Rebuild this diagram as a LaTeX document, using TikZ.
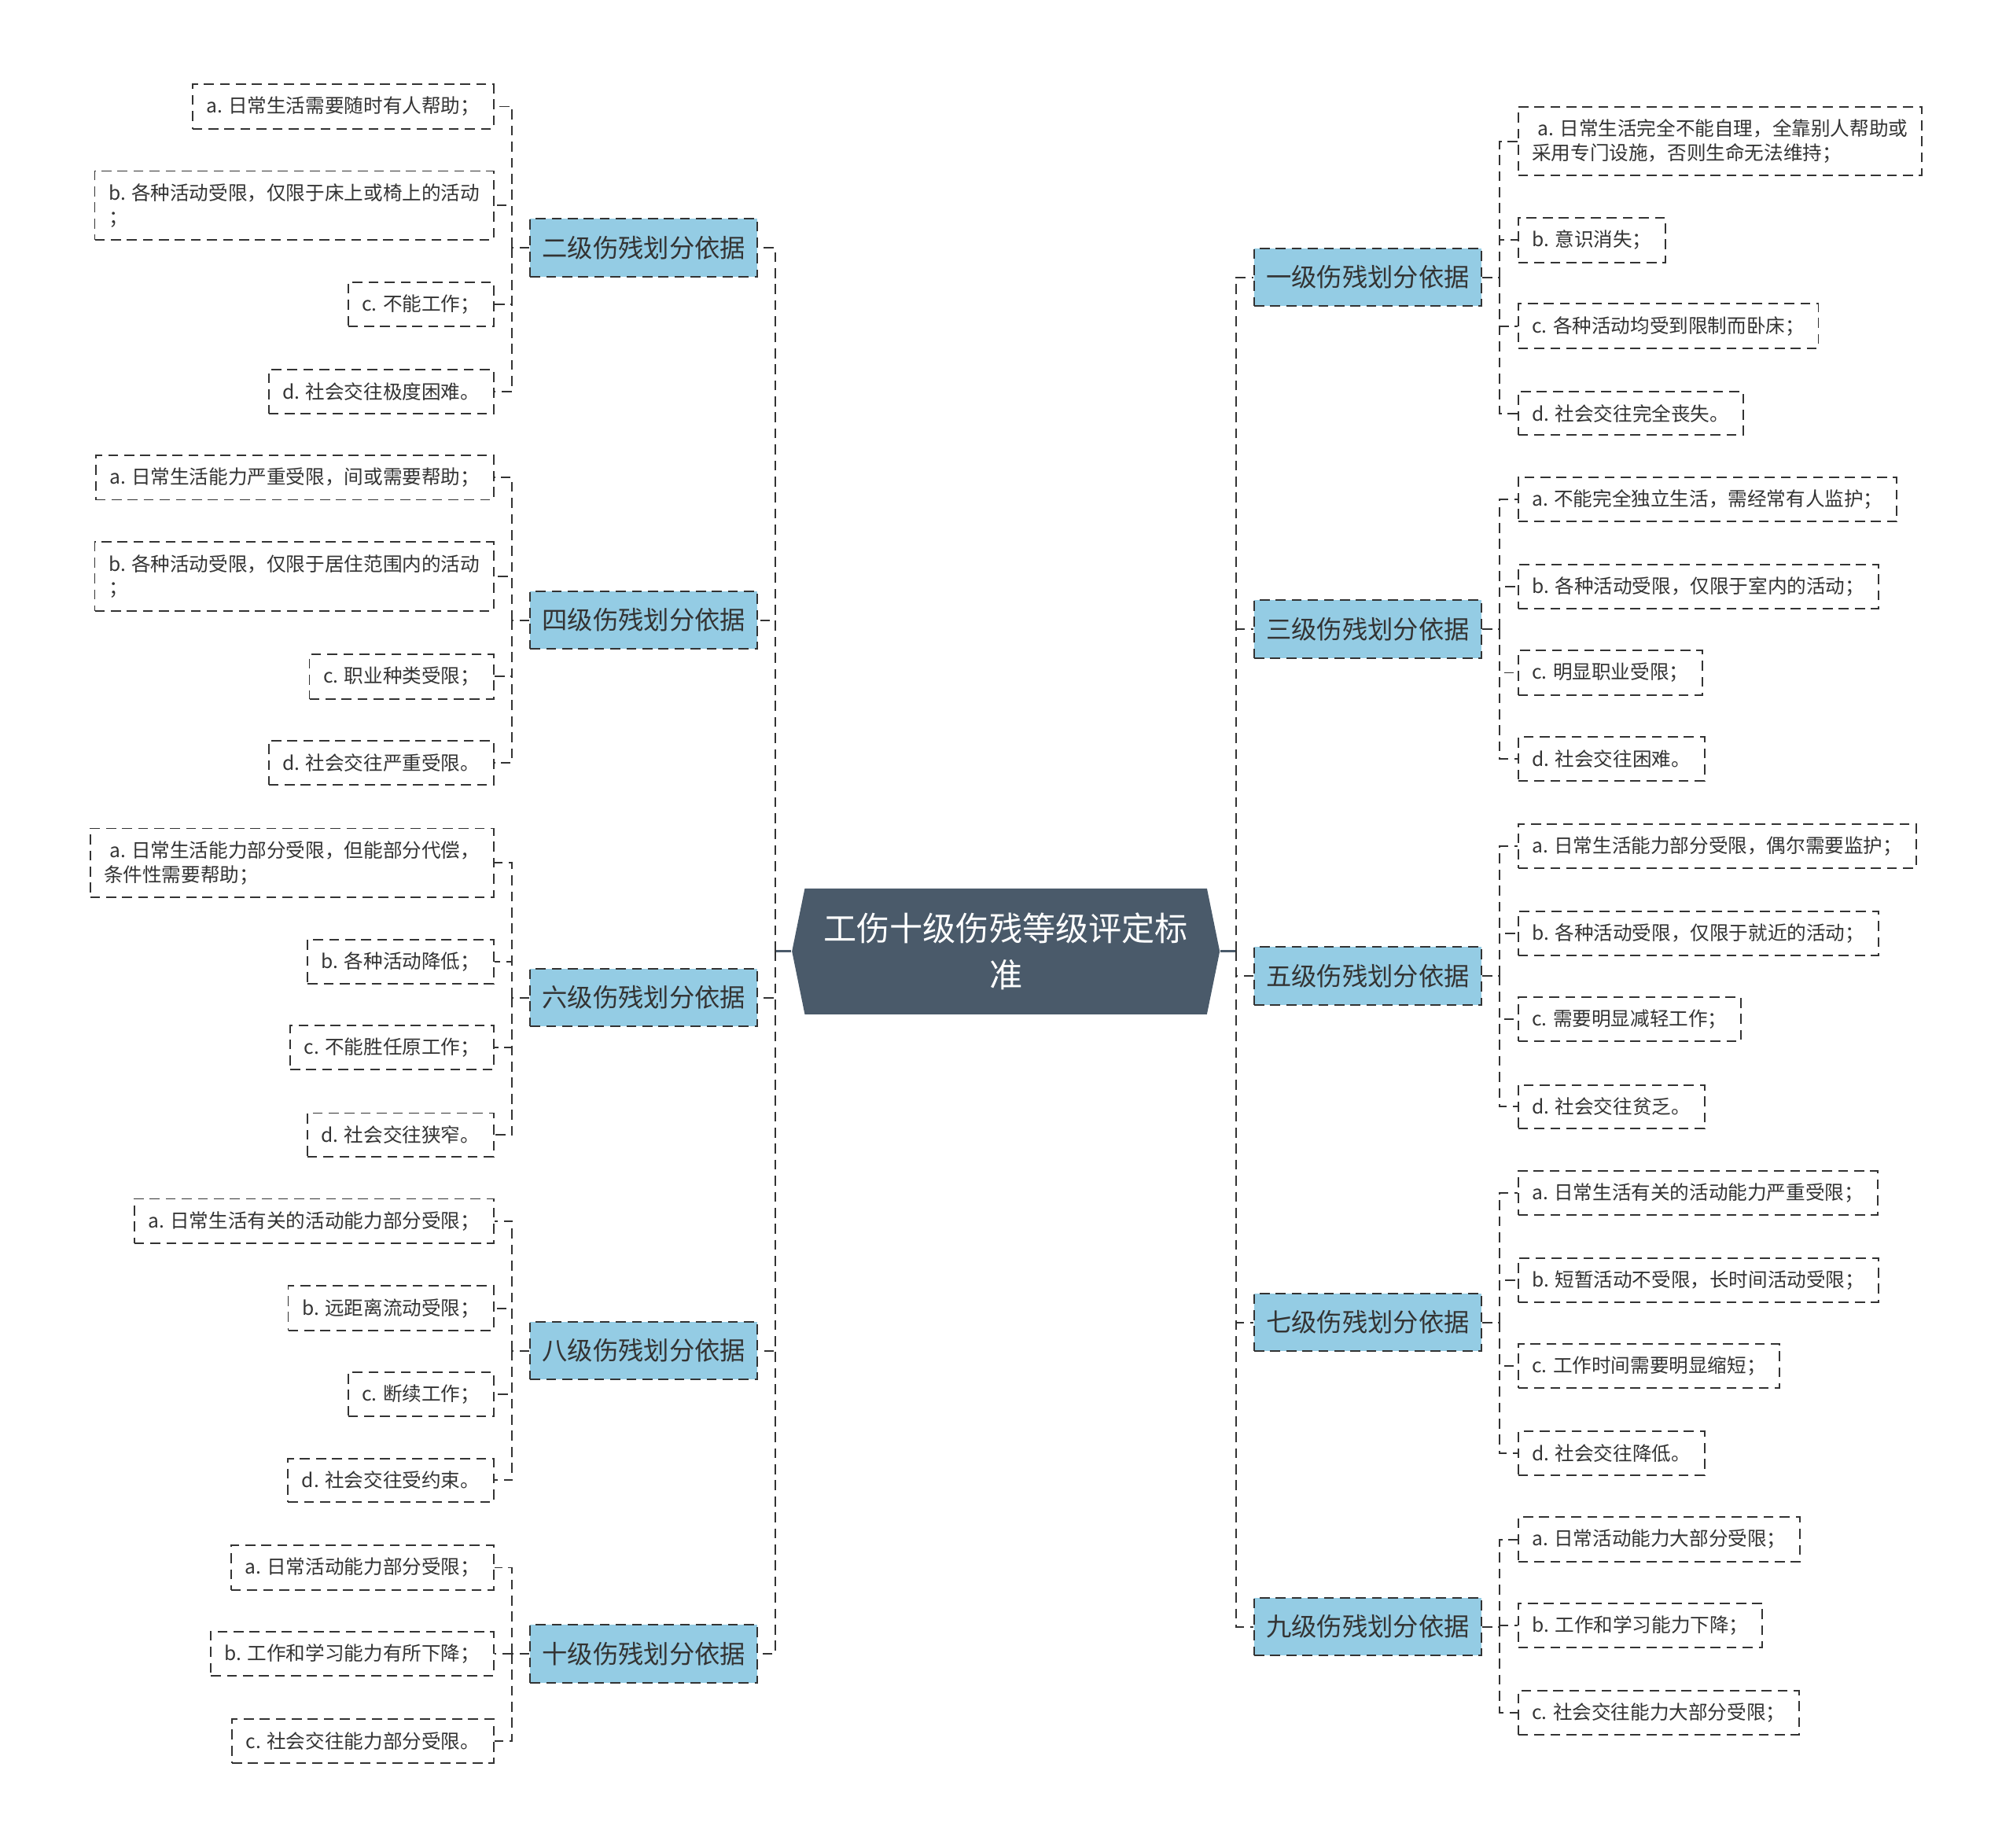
\documentclass[tikz,border=0pt]{standalone}
\usepackage{fontspec}
\setmainfont{Noto Sans CJK SC}
\usetikzlibrary{shapes.symbols}
\definecolor{RootSlate}{RGB}{74,90,106}
\definecolor{CatBlue}{RGB}{148,204,228}
\definecolor{LineGray}{RGB}{51,51,51}

\begin{document}
\begin{tikzpicture}[x=0.01633cm, y=-0.01633cm,
    link/.style={draw=LineGray, line width=0.55pt, dash pattern=on 3.6pt off 2.2pt},
    rootlink/.style={draw=RootSlate, line width=0.9pt},
    leaf/.style={draw=LineGray, line width=0.55pt, dash pattern=on 3.6pt off 2.2pt,
      font=\fontsize{7}{8.8}\selectfont, text=LineGray, align=left,
      inner xsep=5pt, inner ysep=4.5pt, minimum height=0.555cm},
    cat/.style={fill=CatBlue, draw=LineGray, line width=0.55pt, dash pattern=on 3.6pt off 2.2pt,
      font=\fontsize{9.2}{11}\selectfont, text=LineGray,
      minimum width=2.89cm, minimum height=0.735cm, inner sep=2pt},
    root/.style={signal, signal to=east and west, signal pointer angle=157,
      fill=RootSlate, text=white, font=\fontsize{12}{16.7}\selectfont, align=center,
      minimum width=5.44cm, minimum height=1.6cm, inner sep=2pt}]
  \useasboundingbox (0,0) rectangle (1568,1439);

  % centre
  \node[root] (std) at (783.5,741) {工伤十级伤残等级评定标\\准};
  \coordinate (lt) at (604,741);
  \coordinate (rt) at (963,741);
  \draw[rootlink] (std.west) -- (lt);
  \draw[rootlink] (std.east) -- (rt);

  % left side
  \node[cat] (g2) at (501.5,193) {二级伤残划分依据};
  \node[cat] (g4) at (501.5,483) {四级伤残划分依据};
  \node[cat] (g6) at (501.5,777) {六级伤残划分依据};
  \node[cat] (g8) at (501.5,1052) {八级伤残划分依据};
  \node[cat] (g10) at (501.5,1288) {十级伤残划分依据};

  % right side
  \node[cat] (g1) at (1065.5,216) {一级伤残划分依据};
  \node[cat] (g3) at (1065.5,490) {三级伤残划分依据};
  \node[cat] (g5) at (1065.5,760) {五级伤残划分依据};
  \node[cat] (g7) at (1065.5,1030) {七级伤残划分依据};
  \node[cat] (g9) at (1065.5,1267) {九级伤残划分依据};

  \foreach \g in {g2,g4,g6,g8,g10} \draw[link] (lt) |- (\g.east);
  \foreach \g in {g1,g3,g5,g7,g9} \draw[link] (rt) |- (\g.west);

  % level 2
  \node[leaf, anchor=east] (g2a) at (385,83) {a. 日常生活需要随时有人帮助；};
  \node[leaf, anchor=east] (g2b) at (385,160) {b. 各种活动受限，仅限于床上或椅上的活动\\；};
  \node[leaf, anchor=east] (g2c) at (385,237) {c. 不能工作；};
  \node[leaf, anchor=east] (g2d) at (385,305) {d. 社会交往极度困难。};
  \coordinate (g2j) at (399,193);
  \draw[link] (g2.west) -- (g2j);
  \foreach \k in {a,b,c,d} \draw[link] (g2j) |- (g2\k.east);

  % level 4
  \node[leaf, anchor=east] (g4a) at (385,372) {a. 日常生活能力严重受限，间或需要帮助；};
  \node[leaf, anchor=east] (g4b) at (385,449) {b. 各种活动受限，仅限于居住范围内的活动\\；};
  \node[leaf, anchor=east] (g4c) at (385,527) {c. 职业种类受限；};
  \node[leaf, anchor=east] (g4d) at (385,594) {d. 社会交往严重受限。};
  \coordinate (g4j) at (399,483);
  \draw[link] (g4.west) -- (g4j);
  \foreach \k in {a,b,c,d} \draw[link] (g4j) |- (g4\k.east);

  % level 6
  \node[leaf, anchor=east] (g6a) at (385,672) {\hspace*{2pt}a. 日常生活能力部分受限，但能部分代偿，\\条件性需要帮助；};
  \node[leaf, anchor=east] (g6b) at (385,749) {b. 各种活动降低；};
  \node[leaf, anchor=east] (g6c) at (385,816) {c. 不能胜任原工作；};
  \node[leaf, anchor=east] (g6d) at (385,884) {d. 社会交往狭窄。};
  \coordinate (g6j) at (399,777);
  \draw[link] (g6.west) -- (g6j);
  \foreach \k in {a,b,c,d} \draw[link] (g6j) |- (g6\k.east);

  % level 8
  \node[leaf, anchor=east] (g8a) at (385,951) {a. 日常生活有关的活动能力部分受限；};
  \node[leaf, anchor=east] (g8b) at (385,1019) {b. 远距离流动受限；};
  \node[leaf, anchor=east] (g8c) at (385,1086) {c. 断续工作；};
  \node[leaf, anchor=east] (g8d) at (385,1153) {d. 社会交往受约束。};
  \coordinate (g8j) at (399,1052);
  \draw[link] (g8.west) -- (g8j);
  \foreach \k in {a,b,c,d} \draw[link] (g8j) |- (g8\k.east);

  % level 10
  \node[leaf, anchor=east] (g10a) at (385,1221) {a. 日常活动能力部分受限；};
  \node[leaf, anchor=east] (g10b) at (385,1288) {b. 工作和学习能力有所下降；};
  \node[leaf, anchor=east] (g10c) at (385,1356) {c. 社会交往能力部分受限。};
  \coordinate (g10j) at (399,1288);
  \draw[link] (g10.west) -- (g10j);
  \foreach \k in {a,b,c} \draw[link] (g10j) |- (g10\k.east);

  % level 1
  \node[leaf, anchor=west] (g1a) at (1182,110) {\hspace*{2pt}a. 日常生活完全不能自理，全靠别人帮助或\\采用专门设施，否则生命无法维持；};
  \node[leaf, anchor=west] (g1b) at (1182,187) {b. 意识消失；};
  \node[leaf, anchor=west] (g1c) at (1182,254) {c. 各种活动均受到限制而卧床；};
  \node[leaf, anchor=west] (g1d) at (1182,322) {d. 社会交往完全丧失。};
  \coordinate (g1j) at (1168,216);
  \draw[link] (g1.east) -- (g1j);
  \foreach \k in {a,b,c,d} \draw[link] (g1j) |- (g1\k.west);

  % level 3
  \node[leaf, anchor=west] (g3a) at (1182,389) {a. 不能完全独立生活，需经常有人监护；};
  \node[leaf, anchor=west] (g3b) at (1182,457) {b. 各种活动受限，仅限于室内的活动；};
  \node[leaf, anchor=west] (g3c) at (1182,524) {c. 明显职业受限；};
  \node[leaf, anchor=west] (g3d) at (1182,591) {d. 社会交往困难。};
  \coordinate (g3j) at (1168,490);
  \draw[link] (g3.east) -- (g3j);
  \foreach \k in {a,b,c,d} \draw[link] (g3j) |- (g3\k.west);

  % level 5
  \node[leaf, anchor=west] (g5a) at (1182,659) {a. 日常生活能力部分受限，偶尔需要监护；};
  \node[leaf, anchor=west] (g5b) at (1182,727) {b. 各种活动受限，仅限于就近的活动；};
  \node[leaf, anchor=west] (g5c) at (1182,794) {c. 需要明显减轻工作；};
  \node[leaf, anchor=west] (g5d) at (1182,862) {d. 社会交往贫乏。};
  \coordinate (g5j) at (1168,760);
  \draw[link] (g5.east) -- (g5j);
  \foreach \k in {a,b,c,d} \draw[link] (g5j) |- (g5\k.west);

  % level 7
  \node[leaf, anchor=west] (g7a) at (1182,929) {a. 日常生活有关的活动能力严重受限；};
  \node[leaf, anchor=west] (g7b) at (1182,997) {b. 短暂活动不受限，长时间活动受限；};
  \node[leaf, anchor=west] (g7c) at (1182,1064) {c. 工作时间需要明显缩短；};
  \node[leaf, anchor=west] (g7d) at (1182,1132) {d. 社会交往降低。};
  \coordinate (g7j) at (1168,1030);
  \draw[link] (g7.east) -- (g7j);
  \foreach \k in {a,b,c,d} \draw[link] (g7j) |- (g7\k.west);

  % level 9
  \node[leaf, anchor=west] (g9a) at (1182,1199) {a. 日常活动能力大部分受限；};
  \node[leaf, anchor=west] (g9b) at (1182,1266) {b. 工作和学习能力下降；};
  \node[leaf, anchor=west] (g9c) at (1182,1334) {c. 社会交往能力大部分受限；};
  \coordinate (g9j) at (1168,1267);
  \draw[link] (g9.east) -- (g9j);
  \foreach \k in {a,b,c} \draw[link] (g9j) |- (g9\k.west);
\end{tikzpicture}
\end{document}
